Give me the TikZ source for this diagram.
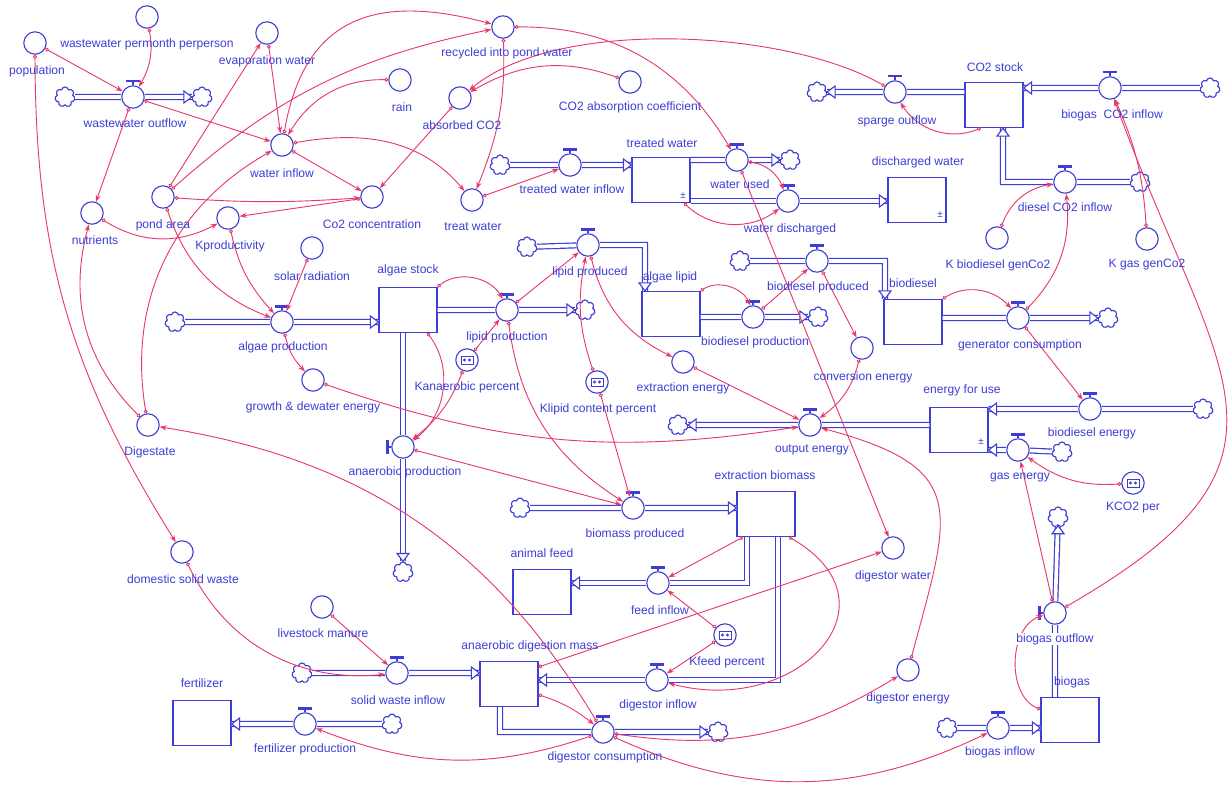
\documentclass[tikz,border=0pt]{standalone}
\usepackage{fontspec}
\setmainfont{Liberation Sans}
\usetikzlibrary{shapes.symbols,arrows.meta,calc}

\definecolor{sdblue}{RGB}{62,62,214}
\definecolor{sdred}{RGB}{232,56,108}

\tikzset{
  conv/.style={circle, draw=sdblue, fill=white, line width=0.8pt, minimum size=0.56cm, inner sep=0pt},
  stock/.style={rectangle, draw=sdblue, fill=white, line width=0.85pt, minimum width=1.45cm, minimum height=1.125cm, inner sep=0pt},
  sink/.style={cloud, cloud puffs=7, cloud puff arc=160, aspect=1, draw=sdblue, fill=white, line width=0.8pt, minimum width=0.5cm, minimum height=0.5cm, inner sep=0pt},
  lbl/.style={text=sdblue, font=\fontsize{8.6}{10}\selectfont, inner sep=0.5pt},
  pm/.style={text=sdblue, font=\fontsize{7}{8}\selectfont, inner sep=0pt},
  pipe/.style={draw=sdblue, double=white, double distance=2.6pt, line width=0.85pt},
  link/.style={draw=sdred, line width=0.65pt, {Circle[open,length=2.8pt,width=2.8pt]}-{Stealth[length=5pt,width=3.6pt]}},
  fhead/.pic={\draw[sdblue, fill=white, line width=0.8pt] (0,0) -- (-8,6) -- (-8,-6) -- cycle;}
}

\begin{document}
\begin{tikzpicture}[x=0.025cm, y=-0.025cm]
  \fill[white] (0,0) rectangle (1231,795);
  \useasboundingbox (0,0) rectangle (1231,795);

  % converters
  \node[conv] (pop) at (35,43) {};
  \node[conv] (wwpp) at (147,17) {};
  \node[conv] (evap) at (267,33) {};
  \node[conv] (rain) at (400,80) {};
  \node[conv] (winf) at (282,145) {};
  \node[conv] (pond) at (163,197) {};
  \node[conv] (nutr) at (92,213) {};
  \node[conv] (kprod) at (228,218) {};
  \node[conv] (co2c) at (372,197) {};
  \node[conv] (recyc) at (503,27) {};
  \node[conv] (absco2) at (460,98) {};
  \node[conv] (co2abs) at (630,82) {};
  \node[conv] (treatw) at (472,200) {};
  \node[conv] (kbio) at (997,238) {};
  \node[conv] (kgas) at (1147,239) {};
  \node[conv] (solar) at (312,248) {};
  \node[conv] (growth) at (313,380) {};
  \node[conv] (extren) at (683,362) {};
  \node[conv] (conven) at (862,348) {};
  \node[conv] (digst) at (148,425) {};
  \node[conv] (digw) at (893,548) {};
  \node[conv] (dige) at (908,670) {};
  \node[conv] (livest) at (322,607) {};
  \node[conv] (domsw) at (182,552) {};

  % graphical converters
  \node[conv] (kanae) at (467,360) {};
  \node[conv] (klipid) at (597,382) {};
  \node[conv] (kfeed) at (725,635) {};
  \node[conv] (kco2) at (1133,483) {};
  \foreach \g in {kanae,klipid,kfeed,kco2} {
    \draw[sdblue, line width=0.7pt] ($(\g)+(-6,-4)$) rectangle ($(\g)+(6,4)$);
    \fill[sdblue] ($(\g)+(-2.5,0)$) circle (1.2pt) ($(\g)+(2.5,0)$) circle (1.2pt);
  }

  % stocks
  \node[stock] (twst) at (661,180) {};
  \node[stock] (disw) at (917,200) {};
  \node[stock] (co2st) at (994,105) {};
  \node[stock] (algst) at (408,310) {};
  \node[stock] (alglip) at (671,314) {};
  \node[stock] (biodst) at (913,322) {};
  \node[stock] (enuse) at (959,430) {};
  \node[stock] (extbm) at (766,514) {};
  \node[stock] (animal) at (542,592) {};
  \node[stock] (adm) at (509,684) {};
  \node[stock] (biogasst) at (1070,720) {};
  \node[stock] (fert) at (202,723) {};
  \node[pm] (pmA) at (683,196) {±};
  \node[pm] (pmB) at (940,215) {±};
  \node[pm] (pmC) at (981,442) {±};

  % valves
  \node[conv] (wwout) at (133,97) {};
  \node[conv] (twin) at (570,165) {};
  \node[conv] (wused) at (737,160) {};
  \node[conv] (wdis) at (788,201) {};
  \node[conv] (sparge) at (895,92) {};
  \node[conv] (bgco2) at (1110,88) {};
  \node[conv] (dco2) at (1065,182) {};
  \node[conv] (algp) at (282,322) {};
  \node[conv] (lipp) at (507,310) {};
  \node[conv] (anp) at (403,447) {};
  \node[conv] (lipd) at (588,245) {};
  \node[conv] (biop) at (753,317) {};
  \node[conv] (biod) at (817,261) {};
  \node[conv] (genc) at (1018,318) {};
  \node[conv] (outen) at (810,425) {};
  \node[conv] (bioen) at (1090,409) {};
  \node[conv] (gasen) at (1018,450) {};
  \node[conv] (biomp) at (633,508) {};
  \node[conv] (feedin) at (658,583) {};
  \node[conv] (diginf) at (657,680) {};
  \node[conv] (digcon) at (603,732) {};
  \node[conv] (bginf) at (998,728) {};
  \node[conv] (fertp) at (305,724) {};
  \node[conv] (swin) at (397,673) {};
  \node[conv] (bgout) at (1055,613) {};
  \foreach \v in {wwout,twin,wused,wdis,sparge,bgco2,dco2,algp,lipp,lipd,biop,biod,genc,outen,bioen,gasen,biomp,feedin,diginf,digcon,bginf,fertp,swin} {
    \draw[sdblue, line width=0.8pt] (\v.north) -- ++(0,-3);
    \draw[sdblue, line width=1.8pt] ($(\v.north)+(-7,-4)$) -- ++(14,0);
  }
  \foreach \v in {anp,bgout} {
    \draw[sdblue, line width=0.8pt] (\v.west) -- ++(-3,0);
    \draw[sdblue, line width=1.8pt] ($(\v.west)+(-4,-7)$) -- ++(0,14);
  }

  % clouds
  \node[sink] (c1) at (65,97) {};
  \node[sink] (c2) at (202,97) {};
  \node[sink] (c3) at (500,165) {};
  \node[sink] (c4) at (790,160) {};
  \node[sink] (c5) at (817,92) {};
  \node[sink] (c6) at (1210,88) {};
  \node[sink] (c7) at (1140,182) {};
  \node[sink] (c8) at (175,322) {};
  \node[sink] (c9) at (585,310) {};
  \node[sink] (c10) at (527,247) {};
  \node[sink] (c11) at (818,317) {};
  \node[sink] (c12) at (740,261) {};
  \node[sink] (c13) at (1108,318) {};
  \node[sink] (c14) at (678,425) {};
  \node[sink] (c15) at (1203,409) {};
  \node[sink] (c16) at (1062,452) {};
  \node[sink] (c17) at (403,572) {};
  \node[sink] (c18) at (520,508) {};
  \node[sink] (c19) at (718,732) {};
  \node[sink] (c20) at (1058,517) {};
  \node[sink] (c21) at (947,728) {};
  \node[sink] (c22) at (302,673) {};
  \node[sink] (c23) at (392,724) {};

  % corners of bent pipes
  \coordinate (dcorner) at (1003,182);
  \coordinate (lcorner) at (645,245);
  \coordinate (bcorner) at (885,261);
  \coordinate (fcorner) at (747,583);
  \coordinate (gcorner) at (778,680);
  \coordinate (acorner) at (500,732);

  % flows
  \draw[pipe] (c1) -- (wwout) -- (c2);
  \pic at (c2.west) {fhead};
  \draw[pipe] (c3) -- (twin) -- (twst.west |- twin);
  \pic at (twst.west |- twin) {fhead};
  \draw[pipe] (twst.east |- wused) -- (wused) -- (c4);
  \pic at (c4.west) {fhead};
  \draw[pipe] (twst.east |- wdis) -- (wdis) -- (disw.west |- wdis);
  \pic at (disw.west |- wdis) {fhead};
  \draw[pipe] (co2st.west |- sparge) -- (sparge) -- (c5);
  \pic[rotate=180] at (c5.east) {fhead};
  \draw[pipe] (c6) -- (bgco2) -- (co2st.east |- bgco2);
  \pic[rotate=180] at (co2st.east |- bgco2) {fhead};
  \draw[pipe] (c7) -- (dco2) -- (dcorner) -- (dcorner |- co2st.south);
  \pic[rotate=90] at (dcorner |- co2st.south) {fhead};
  \draw[pipe] (c8) -- (algp) -- (algst.west |- algp);
  \pic at (algst.west |- algp) {fhead};
  \draw[pipe] (algst.east |- lipp) -- (lipp) -- (c9);
  \pic at (c9.west) {fhead};
  \draw[pipe] (anp |- algst.south) -- (anp) -- (c17);
  \pic[rotate=-90] at (c17.north) {fhead};
  \draw[pipe] (c10) -- (lipd) -- (lcorner) -- (lcorner |- alglip.north);
  \pic[rotate=-90] at (lcorner |- alglip.north) {fhead};
  \draw[pipe] (alglip.east |- biop) -- (biop) -- (c11);
  \pic at (c11.west) {fhead};
  \draw[pipe] (c12) -- (biod) -- (bcorner) -- (bcorner |- biodst.north);
  \pic[rotate=-90] at (bcorner |- biodst.north) {fhead};
  \draw[pipe] (biodst.east |- genc) -- (genc) -- (c13);
  \pic at (c13.west) {fhead};
  \draw[pipe] (enuse.west |- outen) -- (outen) -- (c14);
  \pic[rotate=180] at (c14.east) {fhead};
  \draw[pipe] (c15) -- (bioen) -- (enuse.east |- bioen);
  \pic[rotate=180] at (enuse.east |- bioen) {fhead};
  \draw[pipe] (c16) -- (gasen) -- (enuse.east |- gasen);
  \pic[rotate=180] at (enuse.east |- gasen) {fhead};
  \draw[pipe] (c18) -- (biomp) -- (extbm.west |- biomp);
  \pic at (extbm.west |- biomp) {fhead};
  \draw[pipe] (fcorner |- extbm.south) -- (fcorner) -- (feedin) -- (animal.east |- feedin);
  \pic[rotate=180] at (animal.east |- feedin) {fhead};
  \draw[pipe] (gcorner |- extbm.south) -- (gcorner) -- (diginf) -- (adm.east |- diginf);
  \pic[rotate=180] at (adm.east |- diginf) {fhead};
  \draw[pipe] (c22) -- (swin) -- (adm.west |- swin);
  \pic at (adm.west |- swin) {fhead};
  \draw[pipe] (acorner |- adm.south) -- (acorner) -- (digcon) -- (c19);
  \pic at (c19.west) {fhead};
  \draw[pipe] (c23) -- (fertp) -- (fert.east |- fertp);
  \pic[rotate=180] at (fert.east |- fertp) {fhead};
  \draw[pipe] (c21) -- (bginf) -- (biogasst.west |- bginf);
  \pic at (biogasst.west |- bginf) {fhead};
  \draw[pipe] (bgout |- biogasst.north) -- (bgout) -- (c20);
  \pic[rotate=90] at (c20.south) {fhead};

  % connectors
  \draw[link] (pop) -- (wwout);
  \draw[link] (wwpp) to[bend left=20] (wwout);
  \draw[link] (wwout) -- (winf);
  \draw[link] (wwout) -- (nutr);
  \draw[link] (pop) to[bend right=16] (domsw);
  \draw[link] (nutr) to[bend right=30] (kprod);
  \draw[link] (evap) -- (winf);
  \draw[link] (pond) -- (evap);
  \draw[link] (rain) to[bend right=30] (winf);
  \draw[link] (winf) -- (co2c);
  \draw[link] (winf) to[out=10,in=130] (treatw);
  \draw[link] (pond) to[bend right=4] (co2c);
  \draw[link] (co2c) -- (kprod);
  \draw[link] (absco2) -- (co2c);
  \draw[link] (co2abs) to[bend right=25] (absco2);
  \draw[link] (recyc) to[bend left=12] (treatw);
  \draw[link] (recyc) to[bend left=30] (wused);
  \draw[link] (treatw) -- (twin);
  \draw[link] (sparge) to[out=150,in=40,looseness=0.7] (absco2);
  \draw[link] (winf) to[out=80,in=165,looseness=1.3] (recyc);
  \draw[link] (pond) to[bend left=15] (recyc);
  \draw[link] (kprod) to[bend right=15] (algp);
  \draw[link] (solar) -- (algp);
  \draw[link] (pond) to[bend right=25] (algp);
  \draw[link] (algp) to[bend right=15] (growth);
  \draw[link] (growth) to[bend right=14] (outen);
  \draw[link] (algst.north east) to[bend left=50] (lipp);
  \draw[link] (algst.-50) to[bend left=45] (anp);
  \draw[link] (kanae) to[bend left=15] (anp);
  \draw[link] (kanae) -- (lipp);
  \draw[link] (lipp) -- (lipd);
  \draw[link] (klipid) to[bend left=15] (lipd);
  \draw[link] (klipid) -- (biomp);
  \draw[link] (lipp) to[bend right=25] (biomp);
  \draw[link] (anp) -- (biomp);
  \draw[link] (lipd) to[bend right=25] (extren);
  \draw[link] (extren) -- (outen);
  \draw[link] (alglip.north east) to[bend left=50] (biop);
  \draw[link] (biop) -- (biod);
  \draw[link] (biod) -- (conven);
  \draw[link] (conven) to[bend left=20] (outen);
  \draw[link] (biodst.north east) to[bend left=40] (genc);
  \draw[link] (genc) -- (bioen);
  \draw[link] (genc) to[bend right=25] (dco2);
  \draw[link] (kbio) to[bend left=30] (dco2);
  \draw[link] (kgas) to[bend right=10] (bgco2);
  \draw[link] (bgout) to[out=30,in=-70,looseness=1.5] (bgco2);
  \draw[link] (co2st.-120) to[bend left=40] (sparge);
  \draw[link] (wused) to[bend left=30] (wdis);
  \draw[link] (twst.-45) to[bend right=40] (wdis);
  \draw[link] (wused) -- (digw);
  \draw[link] (extbm.-135) -- (feedin);
  \draw[link] (kfeed) -- (feedin);
  \draw[link] (kfeed) -- (diginf);
  \draw[link] (extbm.-45) to[out=-30,in=-15,looseness=1.8] (diginf);
  \draw[link] (adm.-20) to[bend left=10] (digcon);
  \draw[link] (adm.30) -- (digw);
  \draw[link] (digcon) to[bend left=20] (fertp);
  \draw[link] (digcon) to[bend right=20] (dige);
  \draw[link] (digcon) to[bend right=25] (bginf);
  \draw[link] (digcon) to[bend right=25] (digst);
  \draw[link] (dige) to[out=75,in=-15,looseness=1.6] (outen);
  \draw[link] (bgout) -- (gasen);
  \draw[link] (kco2) to[bend left=20] (gasen);
  \draw[link] (biogasst.160) to[bend left=70] (bgout);
  \draw[link] (livest) -- (swin);
  \draw[link] (domsw) to[bend right=35] (swin);
  \draw[link] (digst) to[bend left=30] (nutr);
  \draw[link] (digst) to[bend left=35] (winf);

  % labels
  \node[lbl] (popl) at (37,71) {population};
  \node[lbl] (wwppl) at (147,44) {wastewater permonth perperson};
  \node[lbl] (wwoutl) at (135,123) {wastewater outflow};
  \node[lbl] (evapl) at (267,61) {evaporation water};
  \node[lbl] (rainl) at (402,107) {rain};
  \node[lbl] (winfl) at (282,173) {water inflow};
  \node[lbl] (pondl) at (163,225) {pond area};
  \node[lbl] (nutrl) at (95,240) {nutrients};
  \node[lbl] (kprodl) at (230,246) {Kproductivity};
  \node[lbl] (co2cl) at (372,224) {Co2 concentration};
  \node[lbl] (recycl) at (507,53) {recycled into pond water};
  \node[lbl] (absco2l) at (462,125) {absorbed CO2};
  \node[lbl] (co2absl) at (630,107) {CO2 absorption coefficient};
  \node[lbl] (treatwl) at (473,227) {treat water};
  \node[lbl] (twinl) at (572,189) {treated water inflow};
  \node[lbl] (twstl) at (662,143) {treated water};
  \node[lbl] (wusedl) at (740,184) {water used};
  \node[lbl] (wdisl) at (790,229) {water discharged};
  \node[lbl] (diswl) at (918,162) {discharged water};
  \node[lbl] (co2stl) at (995,67) {CO2 stock};
  \node[lbl] (spargel) at (897,121) {sparge outflow};
  \node[lbl] (bgco2l) at (1112,115) {biogas~ CO2 inflow};
  \node[lbl] (dco2l) at (1065,207) {diesel CO2 inflow};
  \node[lbl] (kbiol) at (998,265) {K biodiesel genCo2};
  \node[lbl] (kgasl) at (1147,265) {K gas genCo2};
  \node[lbl] (solarl) at (312,276) {solar radiation};
  \node[lbl] (algstl) at (408,270) {algae stock};
  \node[lbl] (algpl) at (283,347) {algae production};
  \node[lbl] (growthl) at (313,407) {growth \& dewater energy};
  \node[lbl] (lippl) at (507,337) {lipid production};
  \node[lbl] (kanael) at (467,387) {Kanaerobic percent};
  \node[lbl] (anpl) at (405,472) {anaerobic production};
  \node[lbl] (lipdl) at (590,272) {lipid produced};
  \node[lbl] (alglipl) at (670,277) {algae lipid};
  \node[lbl] (biopl) at (755,342) {biodiesel production};
  \node[lbl] (biodl) at (818,287) {biodiesel produced};
  \node[lbl] (biodstl) at (913,283) {biodiesel};
  \node[lbl] (gencl) at (1020,345) {generator consumption};
  \node[lbl] (convenl) at (863,377) {conversion energy};
  \node[lbl] (extrenl) at (683,388) {extraction energy};
  \node[lbl] (klipidl) at (598,409) {Klipid content percent};
  \node[lbl] (outenl) at (812,450) {output energy};
  \node[lbl] (enusel) at (962,390) {energy for use};
  \node[lbl] (bioenl) at (1092,433) {biodiesel energy};
  \node[lbl] (gasenl) at (1020,477) {gas energy};
  \node[lbl] (kco2l) at (1133,508) {KCO2 per};
  \node[lbl] (digstl) at (150,452) {Digestate};
  \node[lbl] (biompl) at (635,534) {biomass produced};
  \node[lbl] (extbml) at (765,475) {extraction biomass};
  \node[lbl] (animall) at (542,553) {animal feed};
  \node[lbl] (feedinl) at (660,610) {feed inflow};
  \node[lbl] (kfeedl) at (727,662) {Kfeed percent};
  \node[lbl] (diginfl) at (658,705) {digestor inflow};
  \node[lbl] (adml) at (530,646) {anaerobic digestion mass};
  \node[lbl] (digconl) at (605,757) {digestor consumption};
  \node[lbl] (digwl) at (893,576) {digestor water};
  \node[lbl] (digel) at (908,698) {digestor energy};
  \node[lbl, fill=white] (bgoutl) at (1055,639) {biogas outflow};
  \node[lbl] (biogasl) at (1072,682) {biogas};
  \node[lbl] (bginfl) at (1000,752) {biogas inflow};
  \node[lbl] (fertl) at (202,683) {fertilizer};
  \node[lbl] (fertpl) at (305,749) {fertilizer production};
  \node[lbl] (swinl) at (398,700) {solid waste inflow};
  \node[lbl] (livestl) at (323,633) {livestock manure};
  \node[lbl] (domswl) at (183,579) {domestic solid waste};
\end{tikzpicture}
\end{document}
